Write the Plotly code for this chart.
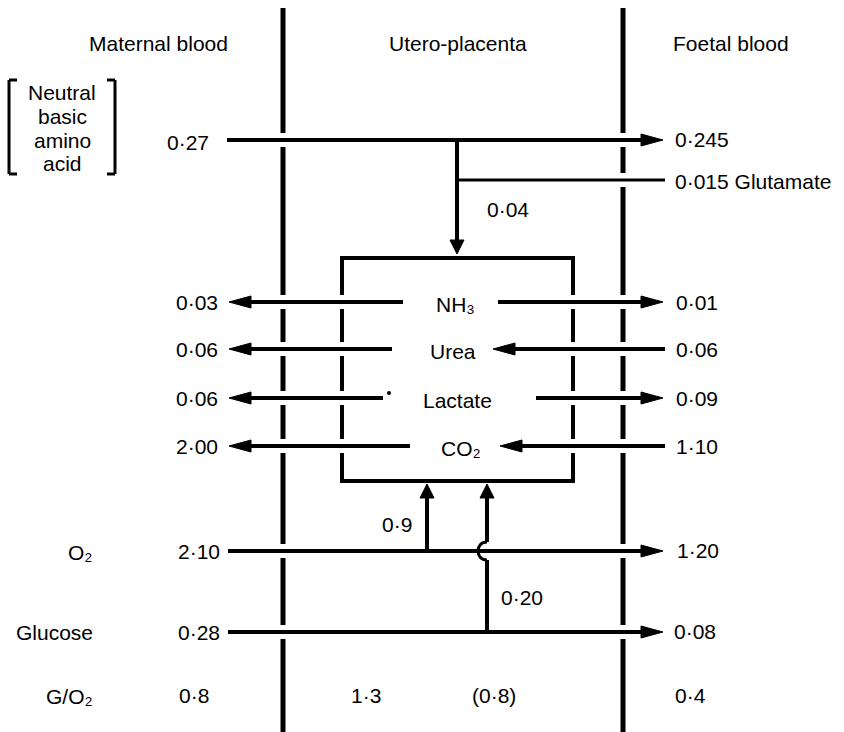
import plotly.graph_objects as go

# ---------------- data ----------------
headers = ["Maternal blood", "Utero-placenta", "Foetal blood"]
amino_label = ["Neutral", "basic", "amino", "acid"]
amino_maternal = "0·27"
amino_foetal = "0·245"
glutamate = "0·015 Glutamate"
amino_uptake = "0·04"

metabolites = ["NH₃", "Urea", "Lactate", "CO₂"]
maternal_flux = ["0·03", "0·06", "0·06", "2·00"]
foetal_flux = ["0·01", "0·06", "0·09", "1·10"]
foetal_dir = [1, -1, 1, -1]          # +1: placenta -> foetus, -1: foetus -> placenta

row_labels = ["O₂", "Glucose", "G/O₂"]
o2_flux = ["2·10", "1·20", "0·9"]            # maternal, foetal, placental uptake
glucose_flux = ["0·28", "0·08", "0·20"]
ratio_vals = ["0·8", "1·3", "(0·8)", "0·4"]

# ---------------- layout geometry ----------------
W, H = 844, 732
XM_L, XM_R = 283, 623            # membranes
BOX = dict(l=342, r=573, t=258, b=481)
X_TIP_L, X_TIP_R = 229, 663
X_TAIL_L, X_TAIL_R = 227, 665
Y_AMINO, Y_GLU_BR = 140, 180
ROWS_Y = [302, 349, 398, 446]
Y_O2, Y_GLUC, Y_RATIO = 551, 632, 695
STUB_L = [403, 392, 383, 410]
STUB_R = [498, 493, 536, 500]
TEXT_X = [455, 453, 457, 461]
X_BRANCH = 457
X_UP1, X_UP2 = 427, 487

FONT = dict(family="Liberation Sans, Arial, Helvetica, sans-serif", size=21, color="black")
LW = 4
shapes = []
annotations = []


def line(x0, y0, x1, y1, w=LW):
    shapes.append(dict(type="line", xref="x", yref="y", x0=x0, y0=y0, x1=x1, y1=y1,
                       line=dict(color="black", width=w)))


def head(tx, ty, d, length=22, half=6):
    if d == "r":
        p = f"M {tx} {ty} L {tx-length} {ty-half} L {tx-length} {ty+half} Z"
    elif d == "l":
        p = f"M {tx} {ty} L {tx+length} {ty-half} L {tx+length} {ty+half} Z"
    elif d == "u":
        p = f"M {tx} {ty} L {tx-half} {ty+length} L {tx+half} {ty+length} Z"
    else:
        p = f"M {tx} {ty} L {tx-half} {ty-length} L {tx+half} {ty-length} Z"
    shapes.append(dict(type="path", xref="x", yref="y", path=p, fillcolor="black",
                       line=dict(color="black", width=1)))


def arrow_h(x_from, x_to, y, w=LW):
    d = "r" if x_to > x_from else "l"
    back = -18 if d == "r" else 18
    line(x_from, y, x_to + back, y, w)
    head(x_to, y, d)


def arrow_v(x, y_from, y_to, w=LW):
    d = "u" if y_to < y_from else "d"
    back = 12 if d == "u" else -12
    line(x, y_from, x, y_to + back, w)
    head(x, y_to, d, length=14, half=7)


def broken_v(x, y0, y1, crossings, gap=7, w=LW):
    ys = [y0]
    for c in sorted(crossings):
        ys += [c - gap, c + gap]
    ys.append(y1)
    for a, b in zip(ys[::2], ys[1::2]):
        line(x, a, x, b, w)


def text(x, y, s, anchor="center", size=None):
    f = dict(FONT)
    if size:
        f["size"] = size
    annotations.append(dict(x=x, y=y, xref="x", yref="y", text=s, showarrow=False,
                            xanchor=anchor, yanchor="middle", font=f))


# membranes
broken_v(XM_L, 8, H, [Y_AMINO] + ROWS_Y + [Y_O2, Y_GLUC], w=5)
broken_v(XM_R, 8, H, [Y_AMINO, Y_GLU_BR] + ROWS_Y + [Y_O2, Y_GLUC], w=5)

# placental box
line(BOX["l"] - 2, BOX["t"], BOX["r"] + 2, BOX["t"])
line(BOX["l"] - 2, BOX["b"], BOX["r"] + 2, BOX["b"])
broken_v(BOX["l"], BOX["t"], BOX["b"], ROWS_Y)
broken_v(BOX["r"], BOX["t"], BOX["b"], ROWS_Y)

# headers
for s, x in zip(headers, [158, 458, 731]):
    text(x, 43, s)

# amino acids
for s, y in zip(amino_label, [92, 116, 140, 163]):
    text(62, y, s)
for bx, tick in [(9, 8), (115, -8)]:
    line(bx, 80, bx, 174, 3)
    line(bx, 80, bx + tick, 80, 3)
    line(bx, 174, bx + tick, 174, 3)
text(211, 142, amino_maternal, "right")
arrow_h(X_TAIL_L, X_TIP_R, Y_AMINO)
text(673, 139, amino_foetal, "left")
line(X_BRANCH, Y_AMINO, X_BRANCH, Y_GLU_BR, 4)
arrow_v(X_BRANCH, Y_AMINO, BOX["t"] - 4)
line(X_BRANCH, Y_GLU_BR, X_TAIL_R, Y_GLU_BR, 3)
text(673, 181, glutamate, "left")
text(508, 209, amino_uptake)

# metabolite rows
for i, y in enumerate(ROWS_Y):
    arrow_h(STUB_L[i], X_TIP_L, y)
    text(220, y, maternal_flux[i], "right")
    text(TEXT_X[i], y + 2, metabolites[i])
    if foetal_dir[i] > 0:
        arrow_h(STUB_R[i], X_TIP_R, y)
    else:
        arrow_h(X_TAIL_R, STUB_R[i], y)
    text(674, y, foetal_flux[i], "left")
# small dot next to lactate
shapes.append(dict(type="circle", xref="x", yref="y", x0=387, y0=391, x1=391, y1=395,
                   fillcolor="black", line=dict(width=0)))

# O2 row
text(95, Y_O2 + 1, row_labels[0], "right")
text(222, Y_O2, o2_flux[0], "right")
arrow_h(X_TAIL_L + 1, X_TIP_R, Y_O2)
text(675, Y_O2 - 1, o2_flux[1], "left")
arrow_v(X_UP1, Y_O2, BOX["b"] + 3)
text(397, 524, o2_flux[2])

# glucose row
text(95, Y_GLUC, row_labels[1], "right")
text(222, Y_GLUC, glucose_flux[0], "right")
arrow_h(X_TAIL_L + 1, X_TIP_R, Y_GLUC)
text(672, Y_GLUC - 1, glucose_flux[1], "left")
r = 9
line(X_UP2, Y_GLUC, X_UP2, Y_O2 + r)
shapes.append(dict(type="path", xref="x", yref="y",
                   path=f"M {X_UP2} {Y_O2 + r} C {X_UP2 - 1.33 * r} {Y_O2 + r} "
                        f"{X_UP2 - 1.33 * r} {Y_O2 - r} {X_UP2} {Y_O2 - r}",
                   line=dict(color="black", width=3)))
arrow_v(X_UP2, Y_O2 - r, BOX["b"] + 3)
text(522, 597, glucose_flux[2])

# G/O2 ratio row
text(95, Y_RATIO + 1, row_labels[2], "right")
for s, x, a in zip(ratio_vals, [177, 366, 494, 673], ["left", "center", "center", "left"]):
    text(x, Y_RATIO, s, a)

fig = go.Figure()
fig.update_layout(
    width=W, height=H, margin=dict(l=0, r=0, t=0, b=0),
    paper_bgcolor="white", plot_bgcolor="white",
    xaxis=dict(range=[0, W], visible=False, fixedrange=True),
    yaxis=dict(range=[H, 0], visible=False, fixedrange=True),
    shapes=shapes, annotations=annotations, showlegend=False,
)
fig.write_html("out.html", config={"displayModeBar": False},
               post_script="document.body.style.margin='0';")
